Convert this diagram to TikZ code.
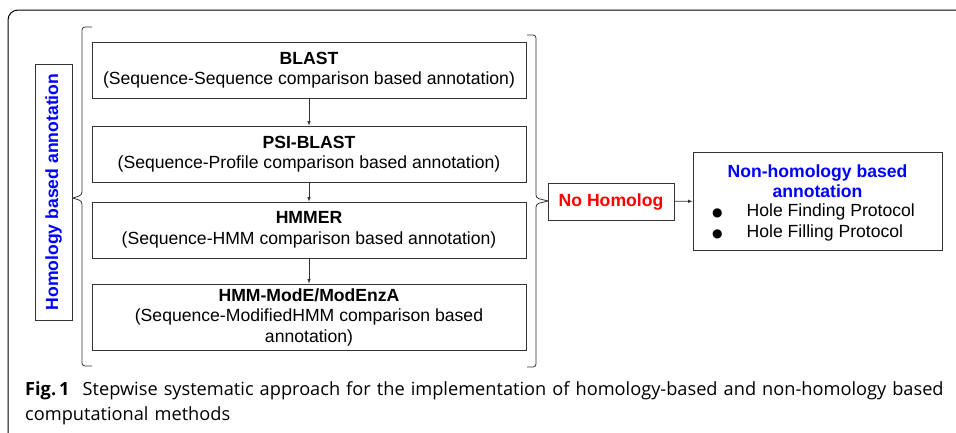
\documentclass[tikz,border=0pt]{standalone}
\usepackage{fontspec}
\setmainfont{Liberation Sans}
\newfontfamily\capfont{Open Sans}
\newfontfamily\symfont{DejaVu Sans}
\usetikzlibrary{calc,arrows.meta}

\tikzset{
  stepbox/.style={draw=black!80,line width=0.8pt,minimum width=434pt,align=center,
    font=\fontsize{17.6}{20.5}\selectfont,inner sep=0pt},
  arr/.style={draw=black!80,line width=0.7pt,-{Latex[length=4.5pt,width=3.5pt]}},
  brace/.style={draw=black!80,line width=0.8pt,rounded corners=3pt}
}

\begin{document}
\begin{tikzpicture}[x=1pt,y=-1pt]
    \useasboundingbox (0,0) rectangle (956,432);
    % outer frame, only top and left side show
    \draw[line width=1pt,rounded corners=10pt] (8,440) -- (8,10) -- (970,10);

    % homology based steps
    \node[stepbox,minimum height=56pt] (blast) at (309,70)
      {\textbf{BLAST}\\(Sequence-Sequence comparison based annotation)};
    \node[stepbox,minimum height=56pt] (psiblast) at (309,154)
      {\textbf{PSI-BLAST}\\(Sequence-Profile comparison based annotation)};
    \node[stepbox,minimum height=56pt] (hmmer) at (309,230)
      {\textbf{HMMER}\\(Sequence-HMM comparison based annotation)};
    \node[stepbox,minimum height=66pt] (hmmmode) at (309,317)
      {\textbf{HMM-ModE/ModEnzA}\\(Sequence-ModifiedHMM comparison based\\annotation)};
    \draw[arr] (blast) -- (psiblast);
    \draw[arr] (psiblast) -- (hmmer);
    \draw[arr] (hmmer) -- (hmmmode);

    % side label
    \node[draw=black!80,line width=0.8pt,minimum width=37pt,minimum height=256pt,inner sep=0pt] (homology) at (53.5,192) {};
    \node[rotate=90,text=blue,font=\fontsize{17.6}{20}\selectfont\bfseries] (homlabel) at (homology.center) {Homology based annotation};

    % braces
    \draw[brace] (92,27) -- (82,27) -- (82,195) -- (73,198);
    \draw[brace] (73,198) -- (82,201) -- (82,366) -- (92,366);
    \draw[brace] (527,35) -- (536,35) -- (536,198) -- (548,201);
    \draw[brace] (548,201) -- (536,204) -- (536,367) -- (527,367);

    % no homolog
    \node[draw=black!80,line width=0.8pt,minimum width=126pt,minimum height=37pt,inner sep=0pt,
      text=red,font=\fontsize{17.6}{20}\selectfont\bfseries] (nohomolog) at (611,201.5) {No Homolog};

    % non-homology box
    \node[draw=black!80,line width=0.8pt,minimum width=249pt,minimum height=98pt,inner sep=0pt] (nonhom) at (817.5,201) {};
    \node[text=blue,align=center,font=\fontsize{17.6}{20}\selectfont\bfseries,inner sep=0pt] (nonhomtitle) at (817.5,181)
      {Non-homology based\\annotation};
    \node[align=left,anchor=west,font=\fontsize{17.6}{21}\selectfont,inner sep=0pt] (holes) at (712,222.5)
      {{\symfont\fontsize{12}{12}\selectfont ●}\hspace{24pt}Hole Finding Protocol\\{\symfont\fontsize{12}{12}\selectfont ●}\hspace{24pt}Hole Filling Protocol};
    \draw[arr] (nohomolog) -- (nonhom);

    % caption
    \node[anchor=base west,align=left,inner sep=0pt,text width=935pt,
      font=\capfont\fontsize{18.2}{25}\selectfont] (caption) at (25,395)
      {\hyphenpenalty=10000\textbf{Fig.\,1}\hspace{13pt}Stepwise systematic approach for the implementation of homology-based and non-homology based computational methods};
\end{tikzpicture}
\end{document}
